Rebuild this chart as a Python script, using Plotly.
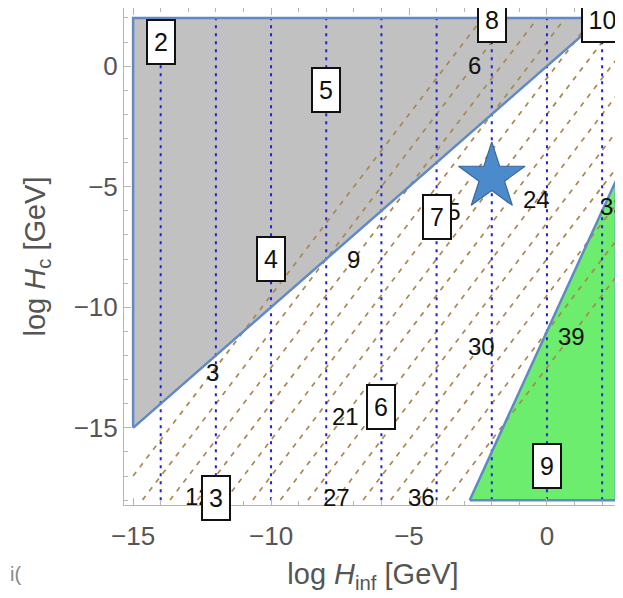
import numpy as np
import plotly.graph_objects as go

# ---------------- data ----------------
# shaded regions (log H_inf, log H_c)
gray_x = [-15, -15, 2, -15]
gray_y = [-15, 2, 2, -15]
green_x = [-2.8, 2.5, 2.5, -2.8]
green_y = [-18, -18, -4.75, -18]

# vertical dotted lines
dotted_x = [-14, -12, -10, -8, -6, -4, -2, 0, 2]
dotted_y = [-18, 2]

# dashed contour lines:  v = a*x + b*y + c
contour_levels = [3, 6, 9, 12, 15, 18, 21, 24, 27, 30, 33, 36, 39]
contour_a, contour_b, contour_c = 3.0, -2.0, 14.0
contour_xrange = [-15, 2.5]
contour_yrange = [-18, 2]

# contour labels
label_text = ["3", "6", "9", "12", "15", "21", "24", "27", "30", "33", "36", "39"]
label_x = [-12.14, -2.61, -7.02, -12.64, -3.62, -7.32, -0.37, -7.62, -2.37, 2.41, -4.54, 0.89]
label_y = [-12.71, 0.01, -8.02, -17.86, -6.01, -14.53, -5.53, -17.9, -11.62, -5.82, -17.9, -11.2]

# boxed region numbers
box_text = ["2", "5", "4", "8", "10", "7", "6", "3", "9"]
box_x = [-14, -8, -10, -2, 2, -4, -6, -12, 0]
box_y = [1, -1, -8, 1.9, 1.9, -6.25, -14.15, -17.9, -16.6]

# star marker
star_x = [-2]
star_y = [-4.6]

# ticks
x_tickvals = [-15, -10, -5, 0]
x_ticktext = ["\u221215", "\u221210", "\u22125", "0"]
y_tickvals = [0, -5, -10, -15]
y_ticktext = ["0", "\u22125", "\u221210", "\u221215"]

# ---------------- styles ----------------
EDGE = "#6089c6"
GRAY = "#c1c1c1"
GREEN = "#6ded6d"
BROWN = "#a98652"
BLUE = "#1f1fe6"
TICKCOL = "#555555"
FRAME = "#b5b5b5"
FONT = "Liberation Sans, Arial, sans-serif"

fig = go.Figure()

fig.add_trace(go.Scatter(x=gray_x, y=gray_y, mode="lines", fill="toself",
                         fillcolor=GRAY, line=dict(color=GRAY, width=0),
                         hoverinfo="skip", showlegend=False))
fig.add_trace(go.Scatter(x=green_x, y=green_y, mode="lines", fill="toself",
                         fillcolor=GREEN, line=dict(color=GREEN, width=0),
                         hoverinfo="skip", showlegend=False))

# contour lines
cx, cy = [], []
for v in contour_levels:
    xs = np.linspace(contour_xrange[0], contour_xrange[1], 2001)
    ys = (v - contour_a * xs - contour_c) / contour_b
    m = (ys >= contour_yrange[0]) & (ys <= contour_yrange[1])
    if m.any():
        xm, ym = xs[m], ys[m]
        cx += [xm[0], xm[-1], None]
        cy += [ym[0], ym[-1], None]
fig.add_trace(go.Scatter(x=cx, y=cy, mode="lines",
                         line=dict(color=BROWN, width=1.7, dash="5px,6px"),
                         hoverinfo="skip", showlegend=False))

# dotted verticals
dx, dy = [], []
for xv in dotted_x:
    dx += [xv, xv, None]
    dy += [dotted_y[0], dotted_y[1], None]
fig.add_trace(go.Scatter(x=dx, y=dy, mode="lines",
                         line=dict(color=BLUE, width=2, dash="3px,5px"),
                         hoverinfo="skip", showlegend=False))

# region outlines
fig.add_trace(go.Scatter(x=gray_x, y=gray_y, mode="lines",
                         line=dict(color=EDGE, width=2.5),
                         hoverinfo="skip", showlegend=False))
fig.add_trace(go.Scatter(x=green_x, y=green_y, mode="lines",
                         line=dict(color=EDGE, width=2.5),
                         hoverinfo="skip", showlegend=False))

# star
fig.add_trace(go.Scatter(x=star_x, y=star_y, mode="markers",
                         marker=dict(symbol="star", size=50, color="#4b8bcb",
                                     line=dict(color="#3a679c", width=1.2)),
                         hoverinfo="skip", showlegend=False))

annotations = []
for t, x, y in zip(label_text, label_x, label_y):
    annotations.append(dict(x=x, y=y, xref="x", yref="y", text=t, showarrow=False,
                            font=dict(family=FONT, size=24, color="#111111")))
for t, x, y in zip(box_text, box_x, box_y):
    annotations.append(dict(x=x, y=y, xref="x", yref="y", text=t, showarrow=False,
                            font=dict(family=FONT, size=25, color="#111111"),
                            bgcolor="white", bordercolor="#111111", borderwidth=2,
                            borderpad=0, width=26 if len(t) == 1 else 39, height=42))
annotations.append(dict(x=-0.233, y=-0.165, xref="paper", yref="paper", text="i(",
                        showarrow=False, xanchor="left",
                        font=dict(family=FONT, size=20, color="#888888")))

axis_common = dict(showline=True, linecolor=FRAME, linewidth=1, mirror="ticks",
                   ticks="inside", ticklen=7, tickcolor=FRAME, tickwidth=1,
                   showgrid=False, zeroline=False, automargin=False,
                   tickfont=dict(family=FONT, size=26, color=TICKCOL),
                   minor=dict(dtick=1, ticks="inside", ticklen=4, tickcolor=FRAME))

fig.update_layout(
    width=615, height=590,
    margin=dict(l=116, r=1, t=0, b=93),
    paper_bgcolor="white", plot_bgcolor="white",
    xaxis=dict(range=[-15.33, 2.72], tickvals=x_tickvals, ticktext=x_ticktext,
               ticklabelstandoff=8,
               title=dict(text="log <i>H</i><sub>inf</sub> [GeV]",
                          font=dict(family=FONT, size=29, color=TICKCOL), standoff=13),
               **axis_common),
    yaxis=dict(range=[-18.2, 2.41], tickvals=y_tickvals, ticktext=y_ticktext,
               title=dict(text="log <i>H</i><sub>c</sub> [GeV]",
                          font=dict(family=FONT, size=29, color=TICKCOL), standoff=19),
               **axis_common),
    annotations=annotations,
    showlegend=False,
)

fig.write_html("out.html")
